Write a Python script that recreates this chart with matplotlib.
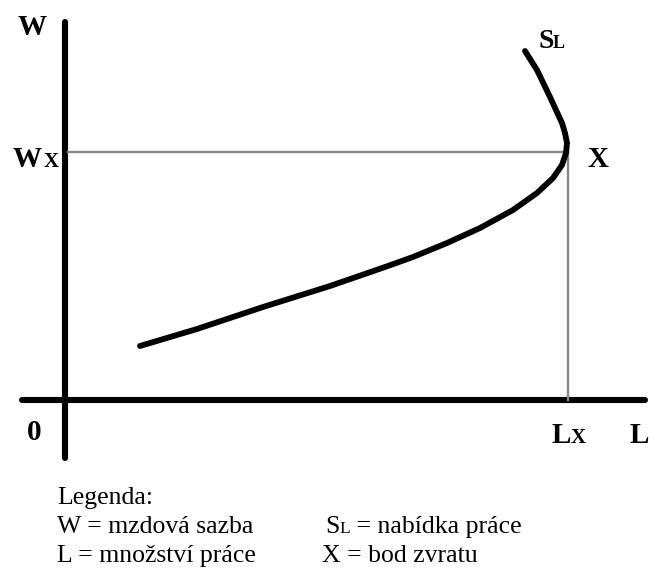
import matplotlib.pyplot as plt

plt.rcParams['font.family'] = ['Liberation Serif', 'DejaVu Serif']

# labour supply curve (L = quantity of labour, W = wage)
supply_L = [75, 132, 198, 265, 320, 348, 382, 415, 448, 472, 488, 497, 501, 502, 500, 497, 485, 472, 460]
supply_W = [54, 71, 93, 114, 133, 143, 157, 172, 190, 207, 222, 235, 247, 257, 267, 277, 303, 330, 349]

# backward bending point X
x_L = 503
x_W = 248

legend_left = ["Legenda:", "W = mzdová sazba", "L = množství práce"]

fig = plt.figure(figsize=(6.49, 5.69), dpi=100)
ax = fig.add_axes([0, 0, 1, 1])
ax.set_xlim(-65, 584)
ax.set_ylim(-169, 400)
ax.axis('off')
renderer = fig.canvas.get_renderer()


def chain(x, y, parts):
    # write text pieces one after another on the same baseline
    for s, size in parts:
        t = ax.text(x, y, s, fontsize=size, va='baseline', ha='left')
        bb = t.get_window_extent(renderer).transformed(ax.transData.inverted())
        x = bb.x1


# axes
ax.plot([-43, 580], [0, 0], color='black', lw=4.4, solid_capstyle='round')
ax.plot([0, 0], [-58, 378], color='black', lw=4.4, solid_capstyle='round')

# guide lines to point X
ax.plot([3, x_L], [x_W, x_W], color='#888888', lw=1.7)
ax.plot([x_L, x_L], [0, x_W], color='#888888', lw=1.7)

# supply curve
ax.plot(supply_L, supply_W, color='black', lw=4.2, solid_capstyle='round',
        solid_joinstyle='round')

big = dict(fontsize=21, fontweight='bold', va='baseline', ha='left')
sub = dict(fontsize=15, fontweight='bold', va='baseline', ha='left')
ax.text(-47, 365, "W", **big)
ax.text(-52, 233, "W", **big)
ax.text(-21, 233, "X", **sub)
ax.text(522, 233, "X", **big)
ax.text(-38, -40, "0", **big)
ax.text(487, -43, "L", **big)
ax.text(506, -43, "X", **sub)
ax.text(565, -43, "L", **big)
ax.text(473, 352, "S", fontsize=20, fontweight='bold', va='baseline', ha='left')
ax.text(488, 352, "L", fontsize=13, fontweight='bold', va='baseline', ha='left')

# legend block
for i, s in enumerate(legend_left):
    ax.text(-8, -104 - i * 29, s, fontsize=18.5, va='baseline', ha='left')
chain(260, -133, [("S", 18.5), ("L", 12.5), (" = nabídka práce", 18.5)])
ax.text(257, -162, "X = bod zvratu", fontsize=18.5, va='baseline', ha='left')

fig.savefig('out.png', dpi=100)
